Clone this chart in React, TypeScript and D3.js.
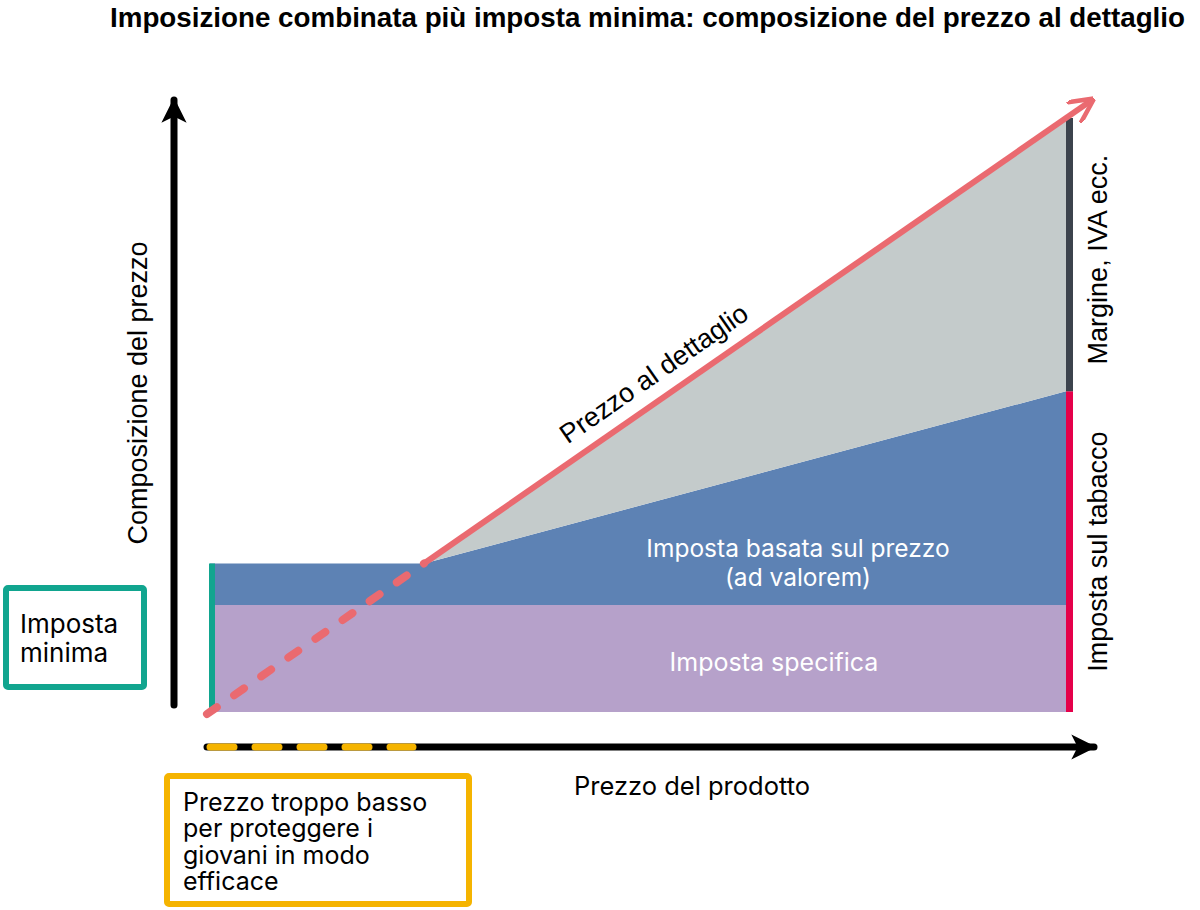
import React from "react";
import * as d3 from "d3";

// Conceptual data (relative units)
const priceX = [0, 25, 100]; // product price
const retailPrice = [0, 25, 100]; // retail price line
const taxX = [0, 25, 100];
const totalTax = [25, 25, 54]; // minimum tax then specific + ad valorem
const specificTax = 18;
const kinkX = 25;

const title = "Imposizione combinata più imposta minima: composizione del prezzo al dettaglio";
const youngLines = ["Prezzo troppo basso", "per proteggere i", "giovani in modo", "efficace"];
const minLines = ["Imposta", "minima"];

const W = 1200;
const H = 910;

export default function App() {
  const x = d3.scaleLinear().domain([0, 100]).range([210, 1066]);
  const y = d3.scaleLinear().domain([0, 100]).range([712, 118]);

  const purpleArea = d3.area<number>()
    .x((d) => x(d))
    .y0(y(0))
    .y1(y(specificTax))([0, 100]) as string;

  const blueData = taxX.map((t, i) => ({ x: t, y0: specificTax, y1: totalTax[i] }));
  const blueArea = d3.area<{ x: number; y0: number; y1: number }>()
    .x((d) => x(d.x))
    .y0((d) => y(d.y0))
    .y1((d) => y(d.y1))(blueData) as string;

  const grayData = taxX
    .map((t, i) => ({ x: t, y0: totalTax[i], y1: retailPrice[i] }))
    .filter((d) => d.x >= kinkX);
  const grayArea = d3.area<{ x: number; y0: number; y1: number }>()
    .x((d) => x(d.x))
    .y0((d) => y(d.y0))
    .y1((d) => y(d.y1))(grayData) as string;

  const x0 = x(priceX[0]) - 3;
  const y0 = y(retailPrice[0]);
  const xk = x(priceX[1]);
  const yk = y(retailPrice[1]);
  const xe = x(priceX[2]);
  const ye = y(retailPrice[2]);
  const slope = (ye - yk) / (xe - xk);
  const tipX = xe + 24;
  const tipY = ye + slope * 24;
  const angle = (Math.atan2(ye - yk, xe - xk) * 180) / Math.PI;

  const font = "'Liberation Sans', Arial, sans-serif";
  const font2 = "Inter, 'Noto Sans', sans-serif";

  const yAxisX = 174;
  const xAxisY = 747;
  const barW = 7;

  // label along price line
  const lblT = 0.36;
  const lblX = xk + (xe - xk) * lblT + 4;
  const lblY = yk + (ye - yk) * lblT - 22;

  return (
    <svg width={W} height={H} style={{ position: "absolute", left: 0, top: 0, background: "#fff" }}>
      <defs>
        <marker id="blk" viewBox="0 0 10 10" refX="9" refY="5" markerWidth="3.6" markerHeight="3.6" orient="auto" markerUnits="strokeWidth">
          <path d="M0,0 L10,5 L0,10 L2.5,5 Z" fill="#000" />
        </marker>
        <marker id="red" viewBox="0 0 10 10" refX="8" refY="5" markerWidth="4.2" markerHeight="4.2" orient="auto" markerUnits="strokeWidth">
          <path d="M0,0 L10,5 L0,10" fill="none" stroke="#ea6a70" strokeWidth="1.8" strokeLinejoin="miter" />
        </marker>
      </defs>

      <text x={1185} y={27} textAnchor="end" fontFamily={font} fontWeight="bold" fontSize={27} textLength={1075} lengthAdjust="spacingAndGlyphs" fill="#000">
        {title}
      </text>

      {/* areas */}
      <path d={purpleArea} fill="#b6a1ca" />
      <path d={blueArea} fill="#5d82b4" />
      <path d={grayArea} fill="#c4cbcb" />

      {/* right bars */}
      <rect x={x(100)} y={y(totalTax[2])} width={barW} height={y(0) - y(totalTax[2])} fill="#e5004a" />
      <rect x={x(100)} y={y(retailPrice[2])} width={barW} height={y(totalTax[2]) - y(retailPrice[2])} fill="#3c434d" />
      {/* minimum tax bar */}
      <rect x={x(0) - 1} y={y(totalTax[0])} width={6} height={y(0) - y(totalTax[0])} fill="#11a58f" />

      {/* retail price line */}
      <line x1={x0} y1={y0 + 2} x2={xk} y2={yk} stroke="#ea6a70" strokeWidth={8} strokeLinecap="round" strokeDasharray="12 21" />
      <line x1={xk} y1={yk} x2={tipX} y2={tipY} stroke="#ea6a70" strokeWidth={6} markerEnd="url(#red)" />

      {/* axes */}
      <line x1={yAxisX} y1={705} x2={yAxisX} y2={100} stroke="#000" strokeWidth={7} strokeLinecap="round" markerEnd="url(#blk)" />
      <line x1={207} y1={xAxisY} x2={1094} y2={xAxisY} stroke="#000" strokeWidth={7} strokeLinecap="round" markerEnd="url(#blk)" />
      <line x1={210} y1={xAxisY} x2={413} y2={xAxisY} stroke="#f5b400" strokeWidth={7} strokeLinecap="round" strokeDasharray="24 21" />

      {/* labels */}
      <text x={lblX} y={lblY} transform={`rotate(${angle} ${lblX} ${lblY})`} textAnchor="middle" fontFamily={font} fontSize={27} fill="#000">
        Prezzo al dettaglio
      </text>
      <text x={798} y={557} textAnchor="middle" fontFamily={font2} fontSize={24.5} fill="#fff">
        Imposta basata sul prezzo
      </text>
      <text x={798} y={586} textAnchor="middle" fontFamily={font2} fontSize={24.5} fill="#fff">
        (ad valorem)
      </text>
      <text x={774} y={671} textAnchor="middle" fontFamily={font2} fontSize={25} fill="#fff">
        Imposta specifica
      </text>

      <text x={0} y={0} transform={`translate(1107 ${y((totalTax[2] + retailPrice[2]) / 2) + 5}) rotate(-90)`} textAnchor="middle" fontFamily={font} fontSize={27} fill="#000">
        Margine, IVA ecc.
      </text>
      <text x={0} y={0} transform={`translate(1107 ${y(totalTax[2] / 2)}) rotate(-90)`} textAnchor="middle" fontFamily={font} fontSize={27} fill="#000">
        Imposta sul tabacco
      </text>
      <text x={0} y={0} transform={`translate(147 393) rotate(-90)`} textAnchor="middle" fontFamily={font} fontSize={27} fill="#000">
        Composizione del prezzo
      </text>
      <text x={692} y={795} textAnchor="middle" fontFamily={font2} fontSize={25.5} fill="#000">
        Prezzo del prodotto
      </text>

      {/* minimum tax box */}
      <rect x={6} y={588} width={138} height={99} fill="none" stroke="#11a58f" strokeWidth={6} rx={2} />
      {minLines.map((l, i) => (
        <text key={l} x={20} y={633 + i * 29} fontFamily={font2} fontSize={26} fill="#000">
          {l}
        </text>
      ))}

      {/* young box */}
      <rect x={167} y={776} width={302} height={128} fill="none" stroke="#f5b400" strokeWidth={6} rx={2} />
      {youngLines.map((l, i) => (
        <text key={l} x={183} y={811 + i * 26.4} fontFamily={font2} fontSize={25} fill="#000">
          {l}
        </text>
      ))}
    </svg>
  );
}
